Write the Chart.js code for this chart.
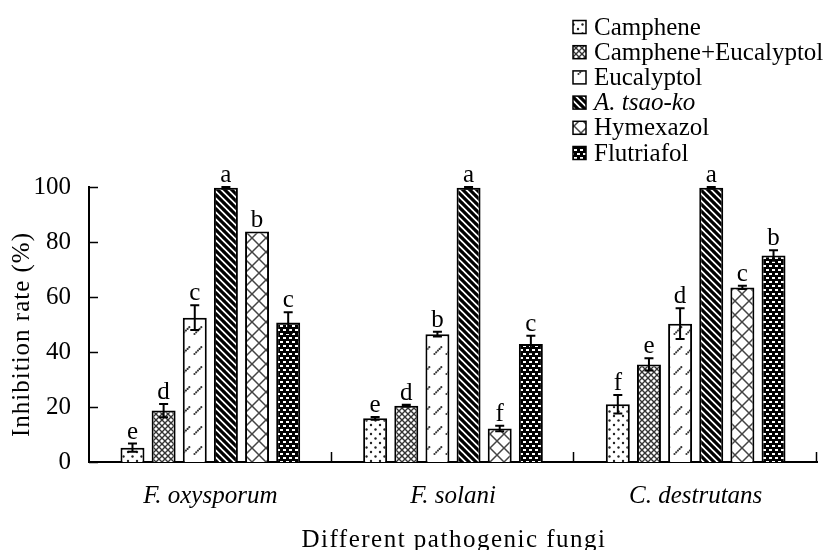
<!DOCTYPE html>
<html>
<head>
<meta charset="utf-8">
<script src="https://cdn.jsdelivr.net/npm/chart.js@4.4.1/dist/chart.umd.min.js"></script>
<style>
  html, body { margin: 0; padding: 0; background: #fff; }
  #wrap { width: 834px; height: 550px; }
</style>
</head>
<body>
<div id="wrap"><canvas id="c" width="834" height="550"></canvas></div>
<script>
// ---- data ----
const categories = ['F. oxysporum', 'F. solani', 'C. destrutans'];
const seriesNames = ['Camphene', 'Camphene+Eucalyptol', 'Eucalyptol', 'A. tsao-ko', 'Hymexazol', 'Flutriafol'];
const camphene = [5.2, 15.9, 21.0];
const campheneEucalyptol = [18.7, 20.5, 35.5];
const eucalyptol = [52.5, 46.5, 50.3];
const tsaoKo = [99.7, 99.7, 99.7];
const hymexazol = [83.8, 12.2, 63.5];
const flutriafol = [50.7, 42.9, 75.1];
const campheneErr = [1.5, 0.5, 3.4];
const campheneEucalyptolErr = [2.4, 0.3, 2.2];
const eucalyptolErr = [4.5, 0.9, 5.6];
const tsaoKoErr = [0.3, 0.3, 0.3];
const hymexazolErr = [0, 1.0, 0.6];
const flutriafolErr = [3.8, 3.0, 1.9];
const campheneLetters = ['e', 'e', 'f'];
const campheneEucalyptolLetters = ['d', 'd', 'e'];
const eucalyptolLetters = ['c', 'b', 'd'];
const tsaoKoLetters = ['a', 'a', 'a'];
const hymexazolLetters = ['b', 'f', 'c'];
const flutriafolLetters = ['c', 'c', 'b'];
const yTicks = [0, 20, 40, 60, 80, 100];

const FONT = '"Liberation Serif", "Times New Roman", serif';
const FS = 25;

// ---- patterns ----
function tile(w, h, draw) {
  const cv = document.createElement('canvas');
  cv.width = w; cv.height = h;
  const g = cv.getContext('2d');
  draw(g, w, h);
  return document.getElementById('c').getContext('2d').createPattern(cv, 'repeat');
}
const patDots = tile(9, 9, (g, w, h) => {
  g.fillStyle = '#fff'; g.fillRect(0, 0, w, h);
  g.fillStyle = '#222';
  g.beginPath(); g.arc(2, 2, 1.2, 0, Math.PI * 2); g.fill();
  g.beginPath(); g.arc(6.5, 6.5, 1.2, 0, Math.PI * 2); g.fill();
});
const patSmallCross = tile(6, 6, (g, w, h) => {
  g.fillStyle = '#fff'; g.fillRect(0, 0, w, h);
  g.strokeStyle = '#333'; g.lineWidth = 1.4;
  g.beginPath();
  g.moveTo(0, 0); g.lineTo(w, h);
  g.moveTo(w, 0); g.lineTo(0, h);
  g.stroke();
});
const patDashes = tile(12, 20, (g, w, h) => {
  g.fillStyle = '#fff'; g.fillRect(0, 0, w, h);
  g.fillStyle = '#333';
  for (let k = 0; k < 5; k++) {
    g.beginPath(); g.arc(2.5 + k * 1.7, 14 - k * 1.7, 1.1, 0, Math.PI * 2); g.fill();
  }
});
const patStripes = tile(7, 7, (g, w, h) => {
  g.fillStyle = '#fff'; g.fillRect(0, 0, w, h);
  g.strokeStyle = '#000'; g.lineWidth = 3.2;
  g.beginPath();
  for (let k = -2; k <= 2; k++) { g.moveTo(k * w - 1, -1); g.lineTo(k * w + w + 1, h + 1); }
  g.stroke();
});
const patBigCross = tile(14, 14, (g, w, h) => {
  g.fillStyle = '#fff'; g.fillRect(0, 0, w, h);
  g.strokeStyle = '#444'; g.lineWidth = 1.5;
  g.beginPath();
  g.moveTo(0, 0); g.lineTo(w, h);
  g.moveTo(w, 0); g.lineTo(0, h);
  g.stroke();
});
const patBlack = tile(6, 8, (g, w, h) => {
  g.fillStyle = '#000'; g.fillRect(0, 0, w, h);
  g.fillStyle = '#fff';
  g.fillRect(1, 1, 3, 2);
  g.fillRect(4, 5, 2, 2); g.fillRect(0, 5, 1, 2);
});

const values = [camphene, campheneEucalyptol, eucalyptol, tsaoKo, hymexazol, flutriafol];
const errors = [campheneErr, campheneEucalyptolErr, eucalyptolErr, tsaoKoErr, hymexazolErr, flutriafolErr];
const letters = [campheneLetters, campheneEucalyptolLetters, eucalyptolLetters, tsaoKoLetters, hymexazolLetters, flutriafolLetters];
const patterns = [patDots, patSmallCross, patDashes, patStripes, patBigCross, patBlack];

const datasets = seriesNames.map((name, i) => ({
  label: name,
  data: values[i],
  backgroundColor: patterns[i],
  borderColor: '#000',
  borderWidth: 2,
  borderSkipped: 'bottom',
  categoryPercentage: 0.77,
  barPercentage: 0.77
}));

const extras = {
  id: 'extras',
  afterDatasetsDraw(chart) {
    const ctx = chart.ctx;
    const y = chart.scales.y;
    ctx.save();
    ctx.strokeStyle = '#000';
    ctx.lineWidth = 2;
    ctx.fillStyle = '#000';
    ctx.font = FS + 'px ' + FONT;
    ctx.textAlign = 'center';
    ctx.textBaseline = 'alphabetic';
    chart.data.datasets.forEach((ds, i) => {
      const meta = chart.getDatasetMeta(i);
      meta.data.forEach((el, j) => {
        const v = values[i][j], e = errors[i][j];
        const top = y.getPixelForValue(v + e);
        const bot = y.getPixelForValue(v - e);
        if (e > 0) {
          ctx.beginPath();
          ctx.moveTo(el.x, top); ctx.lineTo(el.x, bot);
          ctx.moveTo(el.x - 4.5, top); ctx.lineTo(el.x + 4.5, top);
          ctx.moveTo(el.x - 4.5, bot); ctx.lineTo(el.x + 4.5, bot);
          ctx.stroke();
        }
        ctx.fillText(letters[i][j], el.x, top - 5);
      });
    });
    ctx.restore();
  },
  afterDraw(chart) {
    const ctx = chart.ctx;
    const a = chart.chartArea;
    const x = chart.scales.x, y = chart.scales.y;
    ctx.save();
    ctx.strokeStyle = '#000';
    ctx.lineWidth = 1.5;
    // inward y ticks
    ctx.beginPath();
    yTicks.forEach(t => {
      const py = Math.round(y.getPixelForValue(t)) + 0.5;
      ctx.moveTo(a.left, py); ctx.lineTo(a.left + 9, py);
    });
    // inward x ticks at category boundaries
    const half = (a.right - a.left) / categories.length / 2;
    categories.forEach((c, i) => {
      const px = Math.round(x.getPixelForValue(i) + half) - 0.5;
      ctx.moveTo(px, a.bottom); ctx.lineTo(px, a.bottom - 10);
    });
    ctx.stroke();
    // axis titles
    ctx.fillStyle = '#000';
    ctx.font = FS + 'px ' + FONT;
    ctx.textAlign = 'center';
    ctx.textBaseline = 'middle';
    ctx.letterSpacing = '1.5px';
    ctx.fillText('Different pathogenic fungi', (a.left + a.right) / 2 + 1, 540);
    ctx.letterSpacing = '1px';
    ctx.save();
    ctx.translate(22, (a.top + a.bottom) / 2 + 10);
    ctx.rotate(-Math.PI / 2);
    ctx.fillText('Inhibition rate (%)', 0, 0);
    ctx.restore();
    ctx.letterSpacing = '0px';
    // legend
    const lx = 573, ly0 = 27, step = 25.2, bs = 13;
    ctx.textAlign = 'left';
    seriesNames.forEach((name, i) => {
      const cy = ly0 + i * step;
      ctx.fillStyle = patterns[i];
      ctx.fillRect(lx, cy - bs / 2, bs, bs);
      ctx.lineWidth = 1.5;
      ctx.strokeStyle = '#000';
      ctx.strokeRect(lx, cy - bs / 2, bs, bs);
      ctx.fillStyle = '#000';
      ctx.font = (i === 3 ? 'italic ' : '') + FS + 'px ' + FONT;
      ctx.fillText(name, lx + bs + 8, cy + 1);
    });
    ctx.restore();
  }
};

new Chart(document.getElementById('c'), {
  type: 'bar',
  data: { labels: categories, datasets },
  options: {
    responsive: false,
    animation: false,
    devicePixelRatio: 1,
    layout: { padding: { top: 187, right: 17, left: 0, bottom: 0 } },
    plugins: { legend: { display: false }, tooltip: { enabled: false } },
    scales: {
      x: {
        grid: { display: false },
        border: { display: true, color: '#000', width: 2 },
        ticks: { color: '#000', font: { family: FONT, size: FS, style: 'italic' }, padding: 11 },
        afterFit(s) { s.height = 88; }
      },
      y: {
        min: 0, max: 100,
        grid: { display: false },
        border: { display: true, color: '#000', width: 2 },
        ticks: { color: '#000', stepSize: 20, font: { family: FONT, size: FS }, padding: 10 },
        afterFit(s) { s.width = 89; }
      }
    }
  },
  plugins: [extras]
});
</script>
</body>
</html>
